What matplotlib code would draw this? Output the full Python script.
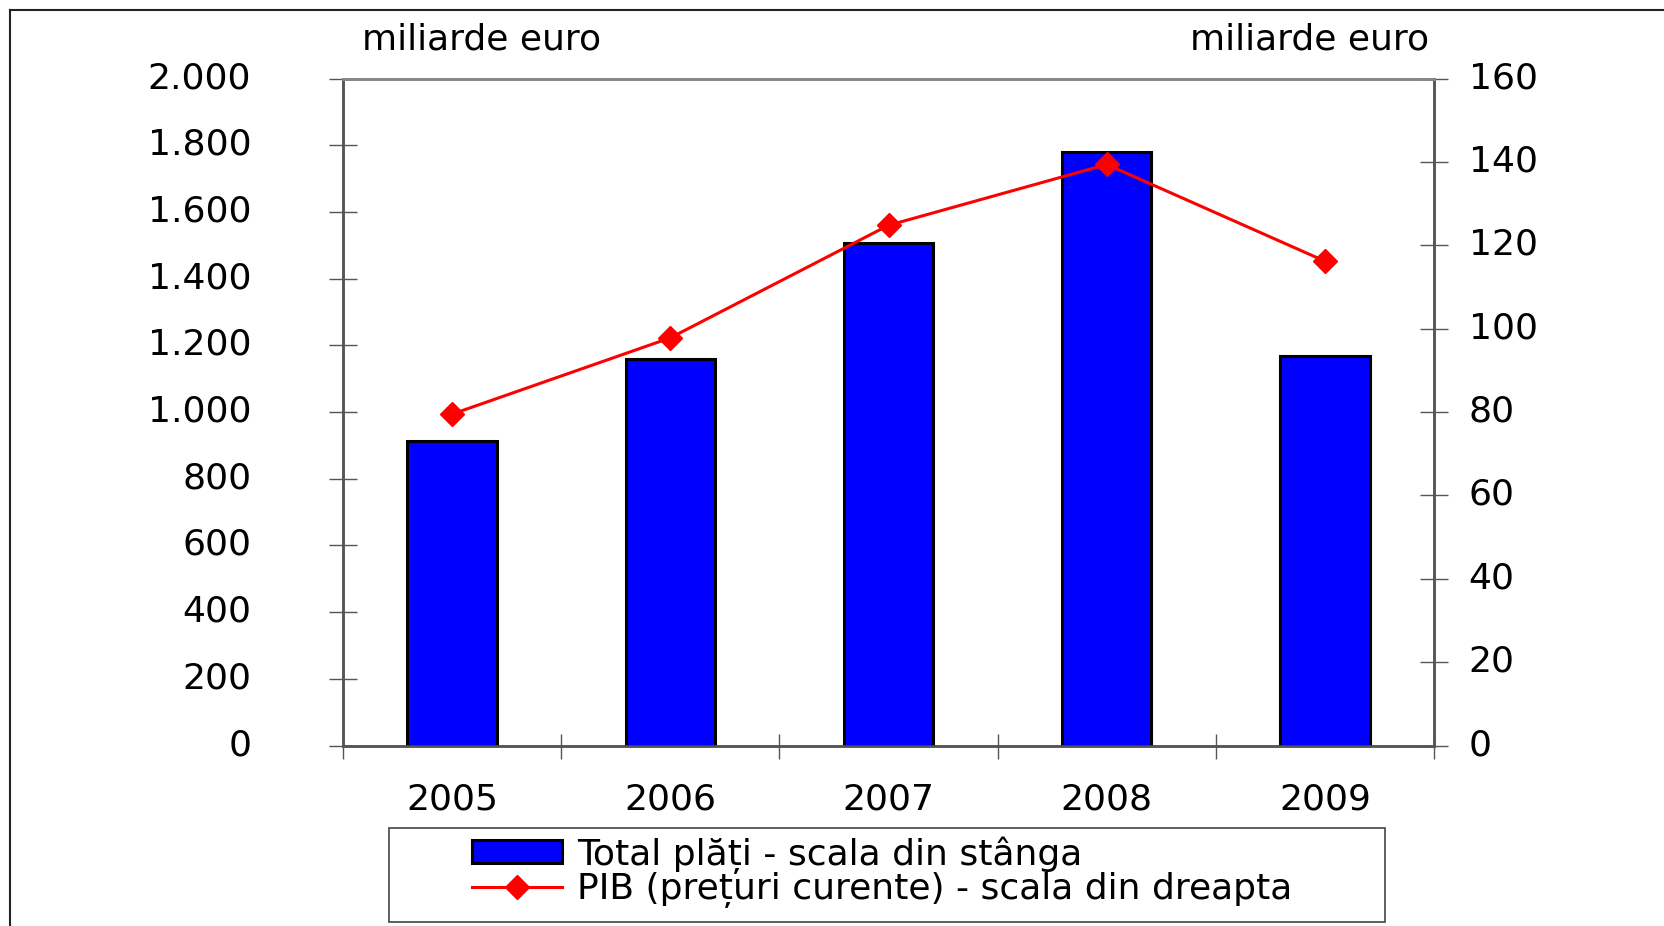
import matplotlib
matplotlib.use("Agg")
import matplotlib.pyplot as plt
import matplotlib.transforms as mtransforms
from matplotlib.lines import Line2D
from matplotlib.patches import Rectangle
import numpy as np

plt.rcParams['font.family'] = ['DejaVu Sans']

years = ["2005", "2006", "2007", "2008", "2009"]
total_plati = [914, 1159, 1506, 1780, 1169]     # left scale
pib = [79.5, 97.8, 124.8, 139.4, 116.2]         # right scale
left_ticks = [0, 200, 400, 600, 800, 1000, 1200, 1400, 1600, 1800, 2000]
left_labels = ["0", "200", "400", "600", "800", "1.000", "1.200", "1.400", "1.600", "1.800", "2.000"]
right_ticks = [0, 20, 40, 60, 80, 100, 120, 140, 160]

W, H = 1665, 926
fig = plt.figure(figsize=(W / 100, H / 100), dpi=100)
ax = fig.add_axes([343 / W, 1 - 745.5 / H, (1434 - 343) / W, (745.5 - 78.6) / H])
ax2 = ax.twinx()

fs = 26
axcol = "#555555"
x = np.arange(len(years))

ax.bar(x, total_plati, width=0.41, color="#0000FF", edgecolor="black", linewidth=2.2, zorder=3)
ax.set_xlim(-0.5, len(years) - 0.5)
ax.set_ylim(0, 2000)
ax.set_yticks(left_ticks)
ax.set_yticklabels(left_labels)
ax.set_xticks(x)
ax.set_xticklabels(years)
ax.set_xticks(np.arange(-0.5, len(years)), minor=True)
ax.tick_params(axis="x", which="major", length=0, pad=27, labelsize=fs)
ax.tick_params(axis="x", which="minor", direction="inout", length=18, width=1, color=axcol)
ax.tick_params(axis="y", direction="inout", length=20, width=1, color=axcol, pad=56, labelsize=fs)

ax2.plot(x, pib, color="#FF0000", linewidth=2.2, marker="D", markersize=12, zorder=4)
ax2.set_ylim(0, 160)
ax2.set_yticks(right_ticks)
ax2.tick_params(axis="y", direction="inout", length=20, width=1, color=axcol, pad=15, labelsize=fs)

# y labels sit a little above their ticks in the original
up = mtransforms.ScaledTranslation(0, 4 / 100, fig.dpi_scale_trans)
for lab in ax.get_yticklabels() + ax2.get_yticklabels():
    lab.set_transform(lab.get_transform() + up)

for a in (ax, ax2):
    for s in ("left", "right", "bottom"):
        a.spines[s].set_color(axcol)
        a.spines[s].set_linewidth(1.8)
    a.spines["top"].set_color("#888888")
    a.spines["top"].set_linewidth(2)

fig.text(362 / W, 1 - 40 / H, "miliarde euro", fontsize=fs, ha="left", va="center")
fig.text(1429 / W, 1 - 40 / H, "miliarde euro", fontsize=fs, ha="right", va="center")

# outer frame (only left and top edges visible)
fig.add_artist(Line2D([10 / W, 10 / W], [0, 1 - 10 / H], transform=fig.transFigure, color="#222222", lw=1.5))
fig.add_artist(Line2D([10 / W, 1], [1 - 10 / H, 1 - 10 / H], transform=fig.transFigure, color="#222222", lw=1.5))

# legend box
fig.add_artist(Rectangle((389 / W, 1 - 922 / H), (1385 - 389) / W, (922 - 828) / H,
                         transform=fig.transFigure, fill=False, edgecolor="#444444", lw=1.2))
h1 = Rectangle((0, 0), 1, 1, facecolor="#0000FF", edgecolor="black", linewidth=2.2)
h2 = Line2D([], [], color="#FF0000", linewidth=2.2, marker="D", markersize=12)
fig.legend([h1, h2], ["Total plăți - scala din stânga", "PIB (prețuri curente) - scala din dreapta"],
           loc="center left", bbox_to_anchor=(472 / W, 1 - 872 / H), frameon=False,
           fontsize=fs, handlelength=2.5, handleheight=0.6, handletextpad=0.4,
           labelspacing=-0.05, borderpad=0, borderaxespad=0)

fig.savefig("out.png", dpi=100)
